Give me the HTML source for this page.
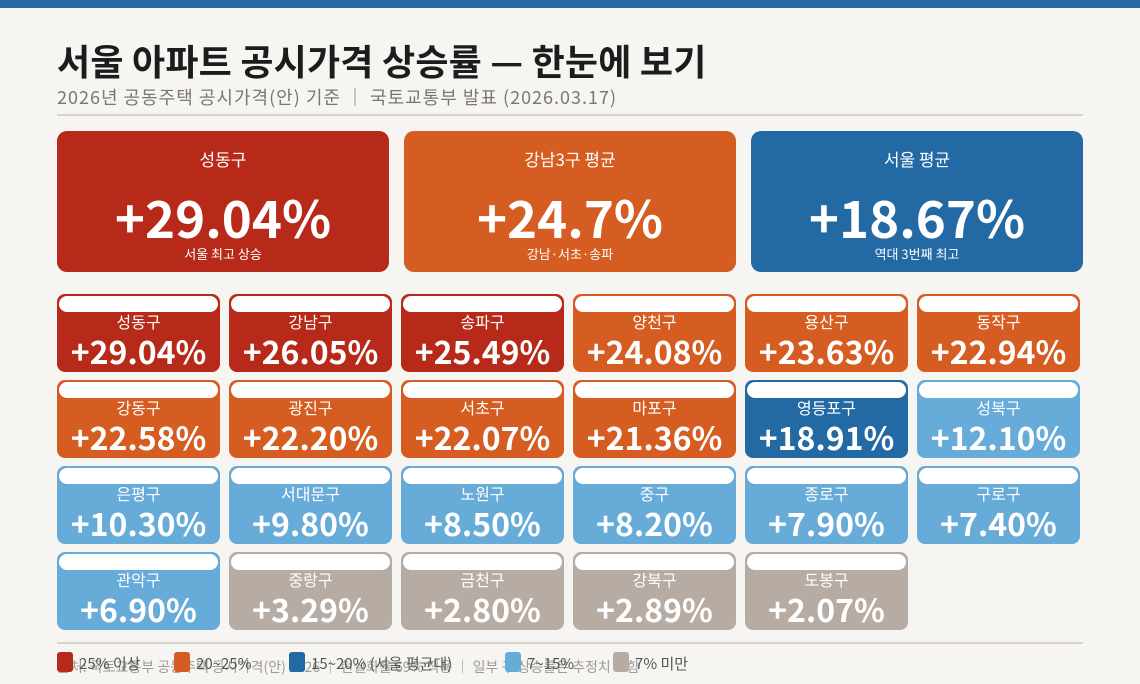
<!DOCTYPE html>
<html><head><meta charset="utf-8"><style>
*{margin:0;padding:0;box-sizing:border-box}
body{width:1140px;height:684px;background:#f6f5f1;font-family:"Liberation Sans","Noto Sans CJK KR",sans-serif;position:relative;overflow:hidden}
.top{position:absolute;left:0;top:0;width:1140px;height:8px;background:#2369a3}
.title{position:absolute;left:57px;top:37px;font-size:36px;font-weight:bold;color:#1c1c1c;font-family:"Noto Sans CJK KR",sans-serif;letter-spacing:0.2px;line-height:46px}
.sub{position:absolute;left:57px;top:85px;font-size:18px;color:#7a7670;font-family:"Noto Sans CJK KR",sans-serif;line-height:24px;letter-spacing:1px}
.hr{position:absolute;left:57px;width:1026px;height:2px;background:#d8d4cc}
.big{position:absolute;top:131px;width:332px;height:141px;border-radius:10px;color:#fff;text-align:center;font-family:"Noto Sans CJK KR",sans-serif}
.big .n{position:absolute;top:16px;width:100%;font-size:17px;line-height:24px}
.big .v{position:absolute;top:54px;width:100%;font-size:51px;font-weight:bold;line-height:62px}
.big .s{position:absolute;top:114px;width:100%;font-size:13px;line-height:18px}
.c{position:absolute;width:163px;height:78px;border-radius:8px;color:#fff;text-align:center;font-family:"Noto Sans CJK KR",sans-serif}
.c::before{content:"";position:absolute;left:2px;right:2px;top:2px;height:16px;background:#fff;border-radius:8px}
.c .n{position:absolute;top:17px;width:100%;font-size:16px;line-height:20px}
.c .v{position:absolute;top:37px;width:100%;font-size:32px;font-weight:bold;line-height:40px}
.r{background:#b72a19}.o{background:#d65d21}.b{background:#2369a3}.l{background:#67abd8}.g{background:#b6aca3}
.leg{position:absolute;top:654px;font-size:15px;color:#555;font-family:"Noto Sans CJK KR",sans-serif;line-height:20px}
.sq{position:absolute;top:652px;width:16px;height:20px;border-radius:3px}
.src{position:absolute;left:57px;top:657px;font-size:14px;color:#8a857e;font-family:"Noto Sans CJK KR",sans-serif;line-height:20px;opacity:.8}
</style></head><body>
<div class="top"></div>
<div class="title">서울 아파트 공시가격 상승률 — 한눈에 보기</div>
<div class="sub">2026년 공동주택 공시가격(안) 기준 ｜ 국토교통부 발표 (2026.03.17)</div>
<div class="hr" style="top:114px"></div>
<div class="big r" style="left:57px"><div class="n">성동구</div><div class="v">+29.04%</div><div class="s">서울 최고 상승</div></div>
<div class="big o" style="left:404px"><div class="n">강남3구 평균</div><div class="v">+24.7%</div><div class="s">강남·서초·송파</div></div>
<div class="big b" style="left:751px"><div class="n">서울 평균</div><div class="v">+18.67%</div><div class="s">역대 3번째 최고</div></div>

<div class="c r" style="left:57px;top:294px"><div class="n">성동구</div><div class="v">+29.04%</div></div>
<div class="c r" style="left:229px;top:294px"><div class="n">강남구</div><div class="v">+26.05%</div></div>
<div class="c r" style="left:401px;top:294px"><div class="n">송파구</div><div class="v">+25.49%</div></div>
<div class="c o" style="left:573px;top:294px"><div class="n">양천구</div><div class="v">+24.08%</div></div>
<div class="c o" style="left:745px;top:294px"><div class="n">용산구</div><div class="v">+23.63%</div></div>
<div class="c o" style="left:917px;top:294px"><div class="n">동작구</div><div class="v">+22.94%</div></div>

<div class="c o" style="left:57px;top:380px"><div class="n">강동구</div><div class="v">+22.58%</div></div>
<div class="c o" style="left:229px;top:380px"><div class="n">광진구</div><div class="v">+22.20%</div></div>
<div class="c o" style="left:401px;top:380px"><div class="n">서초구</div><div class="v">+22.07%</div></div>
<div class="c o" style="left:573px;top:380px"><div class="n">마포구</div><div class="v">+21.36%</div></div>
<div class="c b" style="left:745px;top:380px"><div class="n">영등포구</div><div class="v">+18.91%</div></div>
<div class="c l" style="left:917px;top:380px"><div class="n">성북구</div><div class="v">+12.10%</div></div>

<div class="c l" style="left:57px;top:466px"><div class="n">은평구</div><div class="v">+10.30%</div></div>
<div class="c l" style="left:229px;top:466px"><div class="n">서대문구</div><div class="v">+9.80%</div></div>
<div class="c l" style="left:401px;top:466px"><div class="n">노원구</div><div class="v">+8.50%</div></div>
<div class="c l" style="left:573px;top:466px"><div class="n">중구</div><div class="v">+8.20%</div></div>
<div class="c l" style="left:745px;top:466px"><div class="n">종로구</div><div class="v">+7.90%</div></div>
<div class="c l" style="left:917px;top:466px"><div class="n">구로구</div><div class="v">+7.40%</div></div>

<div class="c l" style="left:57px;top:552px"><div class="n">관악구</div><div class="v">+6.90%</div></div>
<div class="c g" style="left:229px;top:552px"><div class="n">중랑구</div><div class="v">+3.29%</div></div>
<div class="c g" style="left:401px;top:552px"><div class="n">금천구</div><div class="v">+2.80%</div></div>
<div class="c g" style="left:573px;top:552px"><div class="n">강북구</div><div class="v">+2.89%</div></div>
<div class="c g" style="left:745px;top:552px"><div class="n">도봉구</div><div class="v">+2.07%</div></div>

<div class="hr" style="top:642px"></div>
<div class="src">출처: 국토교통부 공동주택 공시가격(안) 2026 ｜ 현실화율 69% 적용 ｜ 일부 구 상승률은 추정치 포함</div>
<div class="sq r" style="left:57px"></div><div class="leg" style="left:79px">25% 이상</div>
<div class="sq o" style="left:174px"></div><div class="leg" style="left:196px">20~25%</div>
<div class="sq b" style="left:289px"></div><div class="leg" style="left:311px">15~20% (서울 평균대)</div>
<div class="sq l" style="left:505px"></div><div class="leg" style="left:527px">7~15%</div>
<div class="sq g" style="left:613px"></div><div class="leg" style="left:635px">7% 미만</div>
</body></html>
